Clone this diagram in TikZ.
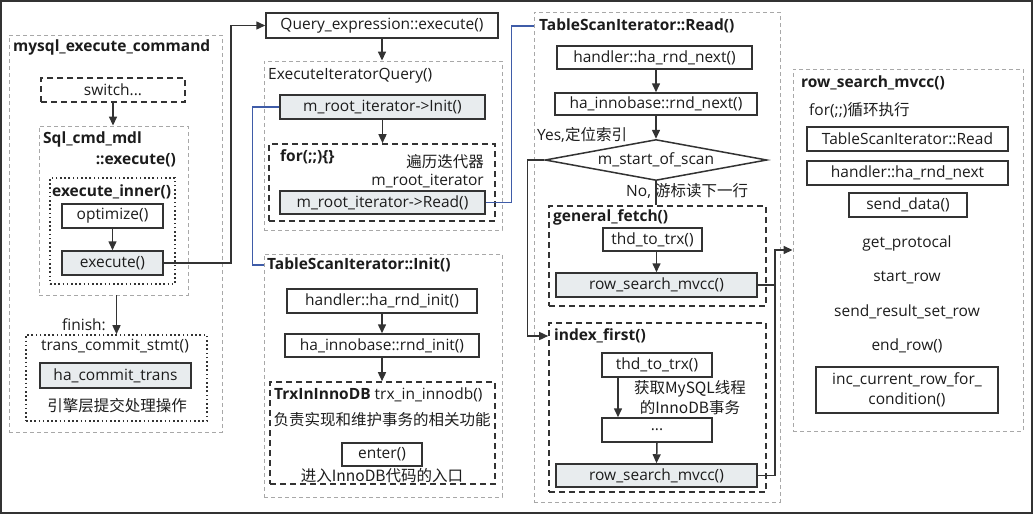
\documentclass[tikz,border=0pt]{standalone}
\usepackage{fontspec}
\setmainfont{Open Sans}
\newfontfamily\cjk{Noto Sans CJK SC}
\usetikzlibrary{arrows.meta,fit,shapes.geometric,calc}
\definecolor{dk}{HTML}{333333}
\definecolor{txt}{HTML}{1C1C1C}
\definecolor{gline}{HTML}{A8A8A8}
\definecolor{gfill}{HTML}{E8ECEE}
\definecolor{bl}{HTML}{3F5CA8}
\begin{document}
\begin{tikzpicture}[x=1pt,y=-1pt,
  font=\fontsize{15.5}{19.5}\selectfont, text=txt,
  box/.style={draw=dk,line width=1.5pt,fill=white,inner sep=0pt,minimum height=24pt},
  gbox/.style={box,fill=gfill},
  gcont/.style={draw=gline,line width=0.9pt,dash pattern=on 4pt off 3pt,inner sep=0pt},
  dcont/.style={draw=dk,line width=1.6pt,dash pattern=on 6pt off 4pt,inner sep=0pt},
  dotcont/.style={draw=dk,line width=1.6pt,dash pattern=on 1.6pt off 2.6pt,inner sep=0pt},
  lbl/.style={inner sep=0pt},
  ttl/.style={inner sep=0pt,anchor=west,font=\fontsize{15.5}{19.5}\selectfont\bfseries},
  arr/.style={draw=dk,line width=1.5pt,-{Triangle[length=9pt,width=8pt]}},
  conn/.style={draw=dk,line width=1.5pt},
  bconn/.style={draw=bl,line width=1.3pt}
]
\useasboundingbox (0,0) rectangle (1034,515);
\draw[draw=dk,line width=2pt] (1,1) rectangle (1032,513);

% ---------- column 1
\node[gcont,fit={(9,35) (222,432)}] (mec) {};
\node[ttl] (mecT) at (13,47) {mysql\_execute\_command};
\node[box,dcont,minimum width=144pt,minimum height=24pt] (sw) at (113,90) {switch...};
\node[gcont,fit={(39,126) (188,295)}] (sqlc) {};
\node[ttl] (sqlcT1) at (43,139) {Sql\_cmd\_mdl};
\node[ttl,anchor=east] (sqlcT2) at (176,160) {::execute()};
\node[dotcont,fit={(50,178) (175,284)}] (inner) {};
\node[ttl] (innerT) at (52,192) {execute\_inner()};
\node[box,minimum width=101pt] (opt) at (112.5,216) {optimize()};
\node[gbox,minimum width=101pt] (exe) at (112.5,263) {execute()};
\node[lbl,anchor=east] (fin) at (106,325) {finish:};
\node[dotcont,fit={(26,335) (207,421)}] (trc) {};
\node[lbl] (trcT) at (115,346) {trans\_commit\_stmt()};
\node[gbox,minimum width=151pt,minimum height=25pt] (hct) at (115.5,375.5) {ha\_commit\_trans};
\node[lbl] (trcC) at (117,406) {\cjk 引擎层提交处理操作};

\draw[arr] (sw.south) -- (sw.south |- sqlc.north);
\draw[arr] (opt.south) -- (exe.north);
\draw[arr] (sqlc.south -| trc.north) -- (trc.north);

% ---------- column 2
\node[box,minimum width=232pt,minimum height=25pt] (qe) at (382,25.5) {Query\_expression::execute()};
\node[gcont,fit={(264,61) (502,230)}] (eiq) {};
\node[lbl,anchor=west] (eiqT) at (268,76) {ExecuteIteratorQuery()};
\node[gbox,minimum width=205pt] (init) at (382.5,107) {m\_root\_iterator->Init()};
\node[dcont,fit={(269,144) (495,221)}] (forc) {};
\node[ttl] (forT) at (280,157) {for(;;)\{\}};
\node[lbl,anchor=east] (forC1) at (484,162) {\cjk 遍历迭代器};
\node[lbl,anchor=east] (forC2) at (484,181) {m\_root\_iterator};
\node[gbox,minimum width=205pt,minimum height=23pt] (read) at (382.5,202.5) {m\_root\_iterator->Read()};

\node[gcont,fit={(264,254) (502,497)}] (tsi) {};
\node[ttl] (tsiT) at (267,265) {TableScanIterator::Init()};
\node[box,minimum width=190pt] (hri) at (382,301) {handler::ha\_rnd\_init()};
\node[box,minimum width=194pt,minimum height=23pt] (iri) at (382,345.5) {ha\_innobase::rnd\_init()};
\node[dcont,fit={(270,382) (495,484)}] (trx) {};
\node[lbl,anchor=west] (trxT) at (274,395) {\textbf{TrxInInnoDB} trx\_in\_innodb()};
\node[lbl] (trxC1) at (382,420) {\cjk 负责实现和维护事务的相关功能};
\node[box,minimum width=80pt,minimum height=23pt] (ent) at (382,454.5) {enter()};
\node[lbl] (trxC2) at (382,476) {\cjk 进入InnoDB代码的入口};

\draw[arr] (exe.east) -- ++(67,0) |- (qe.west);
\draw[arr] (qe.south) -- (qe.south |- eiq.north);
\draw[arr] (init.south) -- (init.south |- forc.north);
\draw[arr] (hri.south) -- (iri.north);
\draw[arr] (iri.south) -- (iri.south |- trx.north);
\draw[bconn] (init.west) -- ++(-27,0) |- (tsiT.west -| tsi.west);

% ---------- column 3
\node[gcont,fit={(534,12) (780,502)}] (tsr) {};
\node[ttl] (tsrT) at (539,26) {TableScanIterator::Read()};
\node[box,minimum width=195pt,minimum height=23pt] (hrn) at (654.5,57.5) {handler::ha\_rnd\_next()};
\node[box,minimum width=202pt,minimum height=22pt] (irn) at (656,104) {ha\_innobase::rnd\_next()};
\node[diamond,draw=dk,line width=1.5pt,fill=white,inner sep=0pt,aspect=5.4,minimum width=222pt,minimum height=41pt] (dia) at (656,160) {m\_start\_of\_scan};
\node[lbl,anchor=west] (yes) at (537,135) {Yes,{\cjk 定位索引}};
\node[lbl,anchor=west] (no) at (626,191) {No, {\cjk 游标读下一行}};
\node[dcont,fit={(549,206) (766,306)}] (gfc) {};
\node[ttl] (gfcT) at (553,217) {general\_fetch()};
\node[box,minimum width=99pt,minimum height=23pt] (thd1) at (652.5,239.5) {thd\_to\_trx()};
\node[gbox,minimum width=201pt] (rsm1) at (656.5,285) {row\_search\_mvcc()};
\node[dcont,fit={(549,323) (766,492)}] (ifc) {};
\node[ttl] (ifT) at (554,336) {index\_first()};
\node[box,minimum width=110pt] (thd2) at (657,365) {thd\_to\_trx()};
\node[lbl,align=center] (ifC) at (690,397.5) {\cjk 获取MySQL线程\\\cjk 的InnoDB事务};
\node[box,minimum width=110pt] (dots) at (657,430) {...};
\node[gbox,minimum width=201pt,minimum height=23pt] (rsm2) at (656.5,475.5) {row\_search\_mvcc()};

\draw[bconn] (read.east) -- ++(26,0) |- (tsrT.west -| tsr.west);
\draw[arr] (hrn.south -| irn.north) -- (irn.north);
\draw[arr] (irn.south) -- (dia.north);
\draw[conn] (dia.south) -- (dia.south |- gfc.north);
\draw[arr] (dia.west) -- ++(-17,0) |- (ifT.west -| ifc.west);
\draw[arr] (thd1.south -| rsm1.north) -- (rsm1.north);
\draw[arr] ([xshift=-39pt]thd2.south) -- ([xshift=-39pt]dots.north);
\draw[arr] (dots.south) -- (rsm2.north);

% ---------- column 4
\node[gcont,fit={(793,69) (1023,431)}] (rsc) {};
\node[ttl] (rscT) at (801,83) {row\_search\_mvcc()};
\node[lbl,anchor=west] (rscF) at (809,110) {for(;;){\cjk 循环执行}};
\node[box,minimum width=201pt] (tsrd) at (907.5,139) {TableScanIterator::Read};
\node[box,minimum width=201pt] (hrn2) at (907.5,173) {handler::ha\_rnd\_next};
\node[box,minimum width=118pt] (sd) at (908,205) {send\_data()};
\node[lbl] (gp) at (907,243) {get\_protocal};
\node[lbl] (sr) at (907,278) {start\_row};
\node[lbl] (ssr) at (907,312) {send\_result\_set\_row};
\node[lbl] (er) at (907,346) {end\_row()};
\node[box,minimum width=182pt,minimum height=46pt,align=center] (icr) at (907,390) {inc\_current\_row\_for\_\\condition()};

\coordinate (jn) at (775,250);
\draw[conn] (rsm1.east) -- (rsm1.east -| jn);
\draw[arr] (rsm2.east) -| (jn) -- (jn -| rsc.west);
\end{tikzpicture}
\end{document}
